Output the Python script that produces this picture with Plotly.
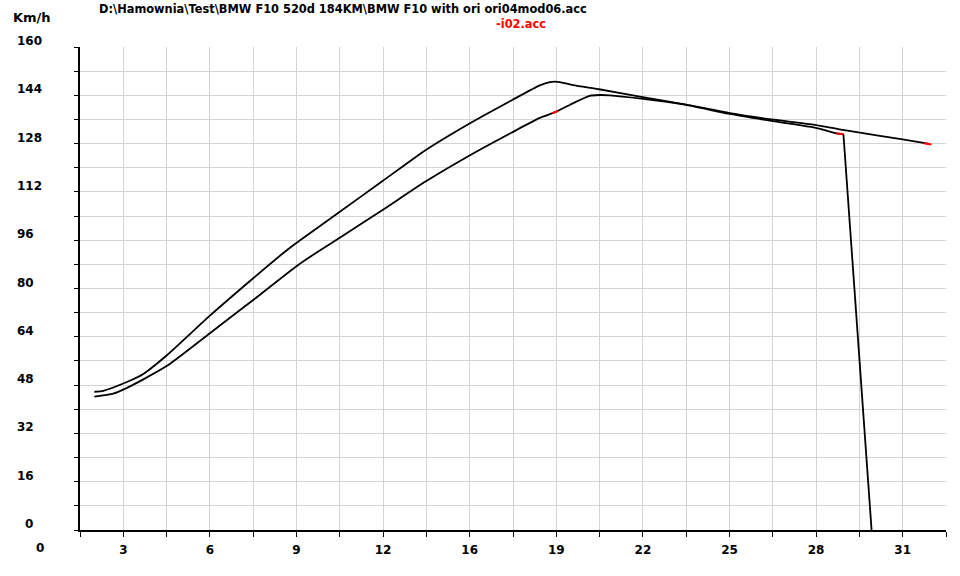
import plotly.graph_objects as go

# ---- data (x in seconds-like units, y in km/h) ----
run_a_t = [2.13, 2.46, 3.22, 3.94, 4.80, 6.40, 8.00, 9.23, 9.72, 11.20, 12.78, 14.38,
           15.98, 17.54, 18.59, 18.96, 19.14, 19.33, 19.82, 20.78, 22.34, 23.95, 25.56,
           27.15, 28.75, 29.66, 30.36, 31.94, 32.99]
run_a_v = [45.8, 46.1, 48.6, 51.7, 57.8, 71.0, 83.4, 92.6, 95.9, 105.4, 115.6, 125.9,
           134.6, 142.3, 147.3, 148.4, 148.5, 148.4, 147.4, 146.0, 143.5, 141.0, 138.2,
           136.0, 134.2, 132.7, 131.7, 129.5, 127.9]

run_b_t = [2.13, 2.83, 3.22, 3.94, 4.80, 6.40, 8.00, 9.60, 10.46, 11.20, 12.78, 14.38, 15.98,
           17.54, 18.59, 19.18, 19.69, 20.43, 20.80, 21.17, 22.34, 23.95, 25.56, 27.15,
           28.75, 29.55, 29.81, 30.85]
run_b_v = [44.2, 45.2, 46.6, 49.9, 54.3, 65.2, 76.2, 87.4, 92.6, 96.8, 106.0, 115.5, 124.0,
           131.6, 136.5, 138.5, 140.8, 143.8, 144.1, 144.0, 142.9, 140.9, 137.9, 135.5,
           133.3, 131.4, 131.1, 0.0]

# red marker segments
mark1_t = [19.05, 19.27]
mark1_v = [138.1, 138.8]
mark2_t = [29.55, 29.81]
mark2_v = [131.4, 131.1]
mark3_t = [32.78, 33.06]
mark3_v = [128.1, 127.7]

x_tick_vals = [3.2, 6.4, 9.6, 12.8, 16.0, 19.2, 22.4, 25.6, 28.8, 32.0]
x_tick_text = ["3", "6", "9", "12", "16", "19", "22", "25", "28", "31"]
y_label_vals = [0, 16, 32, 48, 64, 80, 96, 112, 128, 144, 160]

title_text = "D:\\Hamownia\\Test\\BMW F10 520d 184KM\\BMW F10 with ori ori04mod06.acc"
title2_text = "-i02.acc"
y_unit = "Km/h"

FONT = "DejaVu Sans"
GRID = "#d4d4d4"

fig = go.Figure()
fig.add_trace(go.Scatter(x=run_a_t, y=run_a_v, mode="lines",
                         line=dict(color="black", width=1.8, shape="spline", smoothing=0.6),
                         hoverinfo="skip"))
# run B: smooth part, then straight drop at the end
fig.add_trace(go.Scatter(x=run_b_t[:-1], y=run_b_v[:-1], mode="lines",
                         line=dict(color="black", width=1.8, shape="spline", smoothing=0.6),
                         hoverinfo="skip"))
fig.add_trace(go.Scatter(x=run_b_t[-2:], y=run_b_v[-2:], mode="lines",
                         line=dict(color="black", width=1.8), hoverinfo="skip"))
for mt, mv in [(mark1_t, mark1_v), (mark2_t, mark2_v), (mark3_t, mark3_v)]:
    fig.add_trace(go.Scatter(x=mt, y=mv, mode="lines",
                             line=dict(color="red", width=2), hoverinfo="skip"))

L, R, T, B = 80, 14, 47, 46
W, H = 960, 576
pw, ph = W - L - R, H - T - B

def px_to_paper_x(px):
    return (px - L) / pw

def py_to_paper_y(py):
    return (H - B - py) / ph

annotations = []
for v in y_label_vals:
    annotations.append(dict(
        x=px_to_paper_x(23 if v == 0 else 15), xref="paper", xanchor="left",
        y=v, yref="y", yanchor="middle", yshift=6, text=str(v), showarrow=False,
        font=dict(family=FONT, size=12, color="black", weight="bold")))
annotations.append(dict(x=px_to_paper_x(40), xref="paper", xanchor="center",
                        y=py_to_paper_y(548), yref="paper", yanchor="middle",
                        text="0", showarrow=False,
                        font=dict(family=FONT, size=12, color="black", weight="bold")))
annotations.append(dict(x=px_to_paper_x(11), xref="paper", xanchor="left",
                        y=py_to_paper_y(17), yref="paper", yanchor="middle",
                        text=y_unit, showarrow=False,
                        font=dict(family=FONT, size=13, color="black", weight="bold")))
annotations.append(dict(x=px_to_paper_x(97), xref="paper", xanchor="left",
                        y=py_to_paper_y(9), yref="paper", yanchor="middle",
                        text=title_text, showarrow=False,
                        font=dict(family=FONT, size=11.4, color="black", weight="bold")))
annotations.append(dict(x=px_to_paper_x(494), xref="paper", xanchor="left",
                        y=py_to_paper_y(24), yref="paper", yanchor="middle",
                        text=title2_text, showarrow=False,
                        font=dict(family=FONT, size=11.4, color="red", weight="bold")))

fig.update_layout(
    width=W, height=H,
    margin=dict(l=L, r=R, t=T, b=B, pad=0),
    plot_bgcolor="white", paper_bgcolor="white",
    showlegend=False,
    annotations=annotations,
    xaxis=dict(
        range=[1.6, 33.6], tickmode="array", tickvals=x_tick_vals, ticktext=x_tick_text,
        ticks="outside", ticklen=5, tickcolor="black", tickwidth=1,
        showgrid=True, gridcolor=GRID, gridwidth=1,
        showline=True, linecolor="black", linewidth=2,
        zeroline=False, ticklabelstandoff=3,
        tickfont=dict(family=FONT, size=12, color="black", weight="bold"),
        minor=dict(tickmode="linear", tick0=0, dtick=1.6, ticks="outside", ticklen=5,
                   tickcolor="black", showgrid=True, gridcolor=GRID, gridwidth=1),
    ),
    yaxis=dict(
        range=[0, 160], tickmode="linear", tick0=0, dtick=8,
        ticks="outside", ticklen=4, tickcolor="black",
        showticklabels=False,
        showgrid=True, gridcolor=GRID, gridwidth=1,
        showline=True, linecolor="black", linewidth=2, zeroline=False,
    ),
)

fig.write_html("out.html", config={"displayModeBar": False},
               post_script="document.body.style.margin='0';document.body.style.overflow='hidden';")
